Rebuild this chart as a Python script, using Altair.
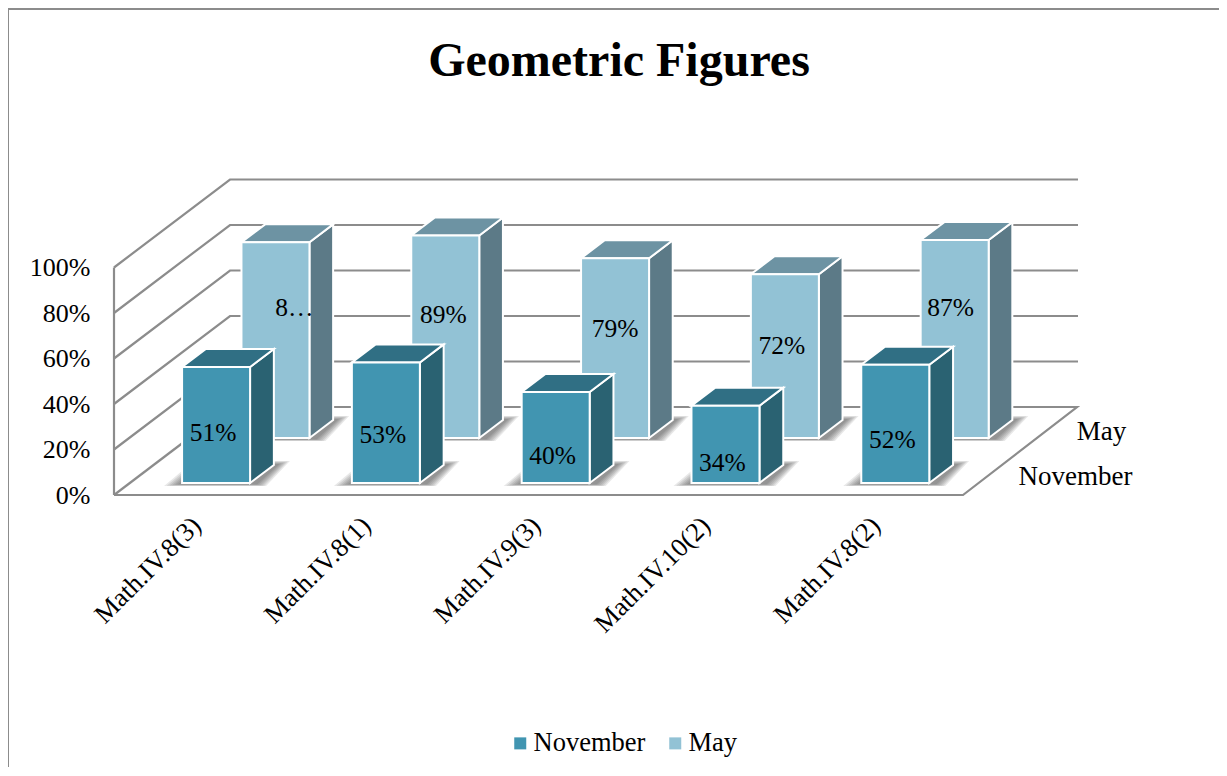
import json
import altair as alt
import pandas as pd

# ---- values
categories = ["Math.IV.8(3)", "Math.IV.8(1)", "Math.IV.9(3)", "Math.IV.10(2)", "Math.IV.8(2)"]
november = [51, 53, 40, 34, 52]
may = [86, 89, 79, 72, 87]
nov_labels = ["51%", "53%", "40%", "34%", "52%"]
may_labels = ["8…", "89%", "79%", "72%", "87%"]
series_names = ["November", "May"]
y_ticks = [0, 20, 40, 60, 80, 100]

# ---- oblique projection (x in plot pixels, y in percent units)
PLOT_W, PLOT_H = 964, 315
PX_PER_PCT = 2.275
FLOOR_DX, FLOOR_DY = 116, 88 / PX_PER_PCT
FLOOR_W = 849
BASE, PITCH, BAR_W = 52.3, 169.8, 68
DEPTH = {"November": (0.136, 0.341), "May": (0.648, 0.852)}
FACE = {"November": ("#4195b1", "#2a6272", "#306f84"), "May": ("#92c2d5", "#5c7a87", "#6d93a3")}
FONT = "Liberation Serif"
GRID = "#8c8c8c"
PAD = {"left": 106, "top": 172, "right": 141, "bottom": 272}


def proj(cat, side, f, v):
    return BASE + cat * PITCH + side * BAR_W + FLOOR_DX * f, v + FLOOR_DY * f


front, sides, tops, shadows, labels = [], [], [], [], []
for name, vals, texts, fracs, shifts in [
    ("May", may, may_labels, [.67, .61, .61, .57, .66], [19, -2, 0, -3, -4]),
    ("November", november, nov_labels, [.44, .41, .31, .27, .37], [-3, -3, -3, -3, -3]),
]:
    f0, f1 = DEPTH[name]
    for i, v in enumerate(vals):
        x0, y0 = proj(i, 0, f0, 0)
        x1, _ = proj(i, 1, f0, 0)
        x2, y2 = proj(i, 1, f1, 0)
        x3, _ = proj(i, 0, f1, 0)
        front.append(dict(s=name, c=i, x=x0, x2=x1, y=y0, y2=y0 + v))
        for px, py in [(x1, y0), (x2, y2)]:
            sides.append(dict(s=name, c=i, x=px, y=py, y2=py + v))
        for py, a, b in [(y0 + v, x0, x1), (y2 + v, x3, x2)]:
            tops.append(dict(s=name, c=i, y=py, x=a, x2=b))
        labels.append(dict(s=name, c=i, x=(x0 + x1) / 2 + shifts[i], y=y0 + v * fracs[i], t=texts[i]))
        # soft shadow on the floor: nested parallelograms that shrink towards the bar
        for k, grow in enumerate([1.0, 0.85, 0.7, 0.55, 0.4, 0.25]):
            lo, hi = y0 - (1 + 2 * grow) / PX_PER_PCT, y2 + (4 * grow) / PX_PER_PCT
            shadows.append(dict(s=name, c=i, k=k, y=lo, x=x0 - 18 * grow, x2=x1 + 4 + 12 * grow))
            shadows.append(dict(s=name, c=i, k=k, y=hi, x=x3 - 12 * grow, x2=x2 + 2 + 14 * grow))

walls = []
tick_id = 0
for v in y_ticks:
    walls += [dict(g=tick_id, o=0, x=0, y=v), dict(g=tick_id, o=1, x=FLOOR_DX, y=v + FLOOR_DY)]
    if v > 0:
        walls.append(dict(g=tick_id, o=2, x=FLOOR_DX + FLOOR_W - 1, y=v + FLOOR_DY))
    tick_id += 1
walls += [dict(g=90, o=0, x=0, y=0), dict(g=90, o=1, x=0, y=100)]
walls += [dict(g=91, o=0, x=FLOOR_DX, y=FLOOR_DY), dict(g=91, o=1, x=FLOOR_DX + FLOOR_W - 2, y=FLOOR_DY),
          dict(g=91, o=2, x=FLOOR_W, y=0), dict(g=91, o=3, x=0, y=0)]

depth_labels = [dict(t="May", x=FLOOR_W + 138.5, y=FLOOR_DY * 0.713),
                dict(t="November", x=FLOOR_W + 112.5, y=FLOOR_DY * 0.21)]

x_scale = alt.Scale(domain=[0, PLOT_W], nice=False, zero=False)
y_scale = alt.Scale(domain=[0, PLOT_H / PX_PER_PCT], nice=False, zero=False)

tick_positions = [BASE + i * PITCH + BAR_W / 2 - 4 for i in range(len(categories))]
label_expr = json.dumps(categories) + f"[round((datum.value-{tick_positions[0]})/{PITCH})]"

x_axis = alt.Axis(
    values=tick_positions, labelExpr=label_expr, title=None, domain=False, ticks=False, grid=False,
    labelAngle=-45, labelAlign="right", labelBaseline="middle", labelFont=FONT, labelFontSize=26.5,
    labelColor="black", labelPadding=26, labelOverlap=False, labelBound=False, labelFlush=False)
y_axis = alt.Axis(
    values=y_ticks, labelExpr="datum.value + '%'", title=None, domain=False, ticks=False, grid=False,
    labelFont=FONT, labelFontSize=26, labelColor="black", labelPadding=24, labelOverlap=False,
    labelBound=False, labelFlush=False)
X = alt.X("x:Q", scale=x_scale, axis=x_axis)
Y = alt.Y("y:Q", scale=y_scale, axis=y_axis)

wall_layer = (
    alt.Chart(pd.DataFrame(walls)).mark_line(color=GRID, strokeWidth=2.2, clip=False)
    .encode(x=X, y=Y, detail="g:N", order="o:Q")
)

frame_top = alt.Chart().mark_rule(color=GRID, strokeWidth=2).encode(
    x=alt.value(-PAD["left"]), x2=alt.value(PLOT_W + PAD["right"]), y=alt.value(-171))
frame_left = alt.Chart().mark_rule(color=GRID, strokeWidth=2).encode(
    x=alt.value(-PAD["left"]), y=alt.value(-171), y2=alt.value(PLOT_H + PAD["bottom"]))

layers = [frame_top, frame_left, wall_layer]
sh = pd.DataFrame(shadows)
cdf = pd.DataFrame(front)
sdf = pd.DataFrame(sides)
tdf = pd.DataFrame(tops)

color = alt.Color("s:N", scale=alt.Scale(domain=series_names, range=[FACE[n][0] for n in series_names]),
                  legend=alt.Legend(title=None, orient="none", legendX=393, legendY=550, direction="horizontal",
                                    symbolType="square", symbolSize=144, symbolStrokeWidth=0, labelFont=FONT,
                                    labelFontSize=26.5, labelColor="black", labelOffset=0, columnPadding=16,
                                    symbolOpacity=1))

for name in ["May", "November"]:
    layers.append(
        alt.Chart(sh[sh.s == name]).mark_area(orient="horizontal", color="#303030", opacity=0.11)
        .encode(y=Y, x=X, x2="x2:Q", detail=["c:N", "k:N"])
    )
    layers.append(
        alt.Chart(sdf[sdf.s == name]).mark_area(color=FACE[name][1], stroke="white", strokeWidth=2)
        .encode(x=X, y=Y, y2="y2:Q", detail="c:N")
    )
    layers.append(
        alt.Chart(tdf[tdf.s == name]).mark_area(orient="horizontal", color=FACE[name][2], stroke="white", strokeWidth=2)
        .encode(y=Y, x=X, x2="x2:Q", detail="c:N")
    )
    layers.append(
        alt.Chart(cdf[cdf.s == name]).mark_rect(stroke="white", strokeWidth=2)
        .encode(x=X, x2="x2:Q", y=Y, y2="y2:Q", color=color)
    )

layers.append(
    alt.Chart(pd.DataFrame(labels)).mark_text(font=FONT, fontSize=25.5, color="black", baseline="middle", align="center", dy=1)
    .encode(x=X, y=Y, text="t:N")
)
layers.append(
    alt.Chart(pd.DataFrame(depth_labels)).mark_text(font=FONT, fontSize=27, color="black", baseline="middle", align="center")
    .encode(x=X, y=Y, text="t:N")
)

chart = (
    alt.layer(*layers)
    .properties(
        width=PLOT_W, height=PLOT_H,
        autosize=alt.AutoSizeParams(type="none"),
        padding=PAD,
        background="white",
        title=alt.TitleParams("Geometric Figures", font=FONT, fontSize=48, fontWeight="bold", color="black",
                              anchor="middle", dx=23, offset=0, dy=78),
    )
    .configure_view(stroke=None)
)

chart.save("out.html", embed_options={"renderer": "svg", "actions": False})
